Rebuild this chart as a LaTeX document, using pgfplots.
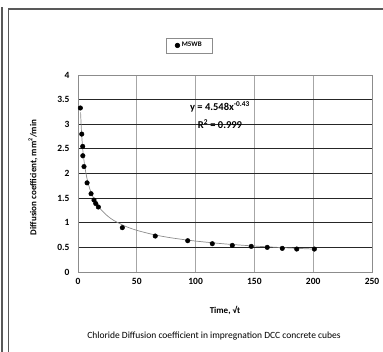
\documentclass[border=0pt]{standalone}
\usepackage{pgfplots}
\pgfplotsset{compat=1.18}
\usepackage{fontspec}
\setmainfont{Carlito}
\begin{document}
\begin{tikzpicture}[x=1pt,y=1pt]
\useasboundingbox (0,0) rectangle (383,352);
\draw[black!65, line width=1.3pt] (2,0) -- (2,345);
\draw[black!65, line width=1.3pt] (8.5,0) -- (8.5,343) -- (383,343);
\begin{axis}[
  at={(78pt,80pt)}, anchor=south west, scale only axis,
  width=294pt, height=197pt,
  xmin=0, xmax=250, ymin=0, ymax=4,
  xtick={0,50,100,150,200,250},
  ytick={0,0.5,1,1.5,2,2.5,3,3.5,4},
  /pgf/number format/assume math mode=true,
  tick label style={font=\fontsize{9.5}{11}\selectfont\bfseries},
  major tick length=0pt,
  xticklabel style={yshift=-3pt},
  yticklabel style={xshift=-5pt},
  axis line style={black!45, line width=0.8pt},
  xmajorgrids, ymajorgrids,
  x grid style={black!35, line width=0.8pt},
  y grid style={black!85, line width=0.9pt},
  xlabel={Time, √t},
  ylabel={Diffusion coefficient, mm\textsuperscript{2}/min},
  label style={font=\fontsize{9}{11}\selectfont\bfseries},
  xlabel style={at={(axis description cs:0.5,-0.193)}, anchor=center},
  ylabel style={at={(axis description cs:-0.153,0.48)}, anchor=center},
  legend style={at={(0.379,1.15)}, anchor=center, draw=black!45, line width=0.6pt,
    font=\fontsize{7}{8}\selectfont\bfseries, inner xsep=9pt, inner ysep=2.5pt},
  legend cell align=left,
]
\addplot[black!45, line width=0.7pt, smooth, forget plot] coordinates {
 (2.2,3.24) (3,2.836) (4,2.506) (5,2.28) (6,2.106) (8,1.86) (10,1.69)
 (13,1.51) (16,1.38) (20,1.254) (25,1.14) (30,1.053) (40,0.931) (50,0.846)
 (65,0.755) (80,0.691) (100,0.628) (125,0.570) (150,0.527) (175,0.493) (201,0.465)
};
\addplot[only marks, mark=*, mark size=2.3pt, black] coordinates {
 (2.0,3.33) (3.2,2.80) (4.0,2.55) (4.1,2.36) (5.1,2.14) (7.7,1.81)
 (11.1,1.59) (13.6,1.46) (15.1,1.39) (17.3,1.32) (37.7,0.90) (65.7,0.73)
 (93.3,0.635) (114.2,0.574) (131.2,0.54) (147.3,0.52) (160.9,0.50)
 (173.7,0.48) (186,0.466) (201,0.466)
};
\addlegendentry{M5WB}
\node[font=\fontsize{10.5}{12}\selectfont\bfseries] at (axis cs:120.7,3.35) {y = 4.548x\textsuperscript{-0.43}};
\node[font=\fontsize{10.5}{12}\selectfont\bfseries] at (axis cs:120.7,3.0) {R\textsuperscript{2} = 0.999};
\end{axis}
\node[font=\fontsize{9.5}{11}\selectfont] at (214,16.3) {Chloride Diffusion coefficient in impregnation DCC concrete cubes};
\end{tikzpicture}
\end{document}
